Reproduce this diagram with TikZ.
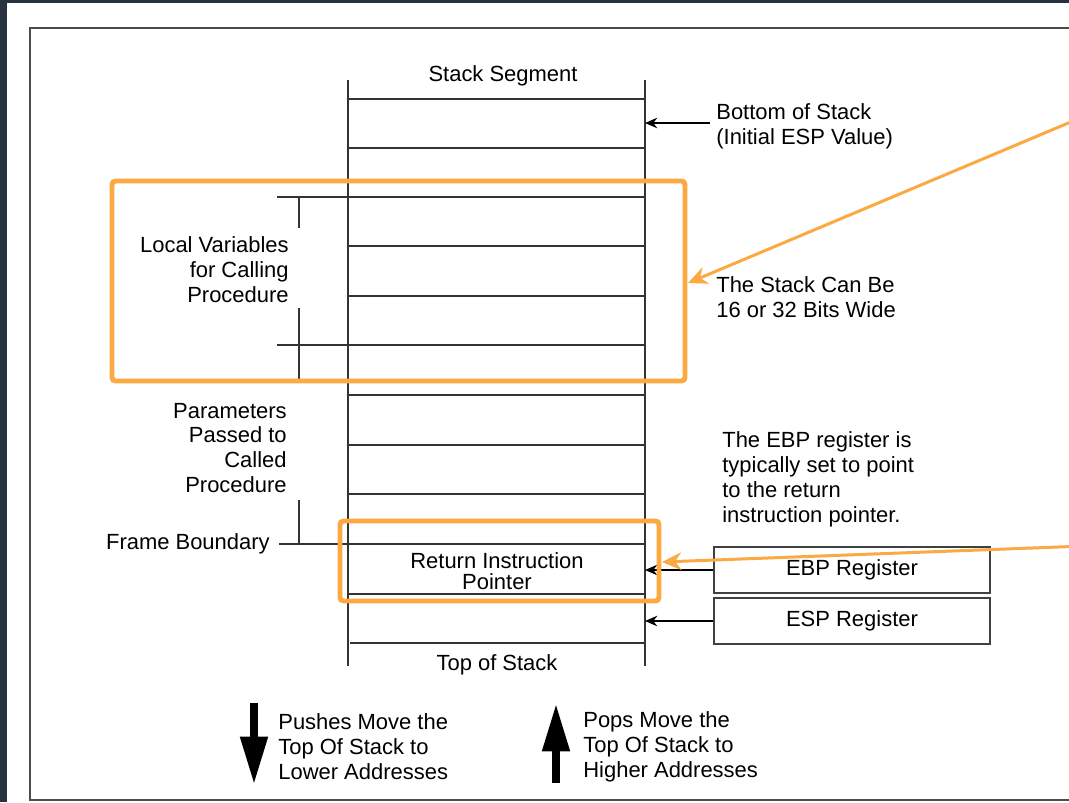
\documentclass[tikz,border=0pt]{standalone}
\usepackage{fontspec}
\setmainfont{Liberation Sans}
\usetikzlibrary{arrows.meta}

\definecolor{hilite}{HTML}{FBA940}
\definecolor{edgebg}{HTML}{27313F}

\tikzset{
	txt/.style={inner sep=0pt, font=\fontsize{12.5}{14.2}\selectfont},
	cell/.style={draw=black!80, line width=0.7pt},
	reg/.style={draw=black!75, line width=0.9pt, minimum width=5.52cm, minimum height=0.92cm, inner sep=0pt, font=\fontsize{12.5}{14.2}\selectfont},
	ptr/.style={-{Stealth[length=7pt,width=6pt]}, line width=0.6pt},
	hibox/.style={draw=hilite, line width=2.8pt, rounded corners=2pt},
	hiarrow/.style={draw=hilite, line width=1.7pt, -{Stealth[length=11pt,width=10pt]}},
	bigarrow/.style={line width=4pt, -{Triangle[length=27pt,width=15pt]}}
}

\begin{document}
\begin{tikzpicture}[x=0.02cm,y=-0.02cm]
		% page and frame
		\fill[edgebg] (0,0) rectangle (1069,802);
		\fill[white] (7,3) rectangle (1069,802);
		\useasboundingbox (0,0) rectangle (1069,802);
		\clip (0,0) rectangle (1069,802);
		\draw[black!70, line width=0.9pt] (30,28) rectangle (1080,800);
		% stack sides
		\coordinate (stkL) at (348,0);
		\coordinate (stkR) at (645,0);
		\draw[cell] (348,80)--(348,666);
		\draw[cell] (645,80)--(645,666);
		% stack rows
		\draw[cell] (348,99)--(645,99);
		\draw[cell] (348,148)--(645,148);
		\draw[cell] (277,197)--(645,197);
		\draw[cell] (348,246)--(645,246);
		\draw[cell] (348,296)--(645,296);
		\draw[cell] (277,345)--(645,345);
		\draw[cell] (348,395)--(645,395);
		\draw[cell] (348,445)--(645,445);
		\draw[cell] (348,494)--(645,494);
		\draw[cell] (279,544)--(645,544);
		\draw[cell] (348,594)--(645,594);
		\draw[cell] (350,643)--(645,643);
		% brackets on the left
		\draw[cell] (299,197)--(299,228);
		\draw[cell] (299,308)--(299,383);
		\draw[cell] (299,500)--(299,544);
		% labels
		\node[txt] (seg) at (503,76) {Stack Segment};
		\node[txt] (tos) at (497,665) {Top of Stack};
		\node[txt, align=center, font=\fontsize{12.5}{11.8}\selectfont] (rip) at (497,571) {Return Instruction\\Pointer};
		\node[txt, align=right, anchor=east] (locals) at (289,270) {Local Variables\\for Calling\\Procedure};
		\node[txt, align=right, anchor=east] (params) at (287,448) {Parameters\\Passed to\\Called\\Procedure};
		\node[txt, anchor=east] (fb) at (270,544) {Frame Boundary};
		\node[txt, align=left, anchor=west] (bos) at (716,126) {Bottom of Stack\\(Initial ESP Value)};
		\node[txt, align=left, anchor=west] (wide) at (716,297) {The Stack Can Be\\16 or 32 Bits Wide};
		\node[txt, align=left, anchor=west] (note) at (722,479) {The EBP register is\\typically set to point\\to the return\\instruction pointer.};
		% registers
		\node[reg] (ebp) at (852,570) {EBP Register};
		\node[reg] (esp) at (852,621) {ESP Register};
		\coordinate (bosarr) at (710,123);
		\draw[ptr] (bosarr) -- (bosarr -| stkR);
		\draw[ptr] (ebp.west) -- (ebp.west -| stkR);
		\draw[ptr] (esp.west) -- (esp.west -| stkR);
		% highlights
		\draw[hibox] (112,181) rectangle (685,381);
		\draw[hibox] (340,521) rectangle (659,601);
		\coordinate (far1) at (1085,116);
		\coordinate (tip1) at (688,283);
		\coordinate (far2) at (1085,546);
		\coordinate (tip2) at (662,562);
		\draw[hiarrow] (far1) -- (tip1);
		\draw[hiarrow] (far2) -- (tip2);
		% push and pop
		\coordinate (pushtop) at (254,703);
		\coordinate (pushend) at (254,784);
		\coordinate (poptop) at (556,704);
		\coordinate (popend) at (556,783);
		\draw[bigarrow] (pushtop) -- (pushend);
		\draw[bigarrow] (popend) -- (poptop);
		\node[txt, align=left, anchor=west] (push) at (278,747) {Pushes Move the\\Top Of Stack to\\Lower Addresses};
		\node[txt, align=left, anchor=west] (pop) at (583,747) {Pops Move the\\Top Of Stack to\\Higher Addresses};
	\end{tikzpicture}
\end{document}
